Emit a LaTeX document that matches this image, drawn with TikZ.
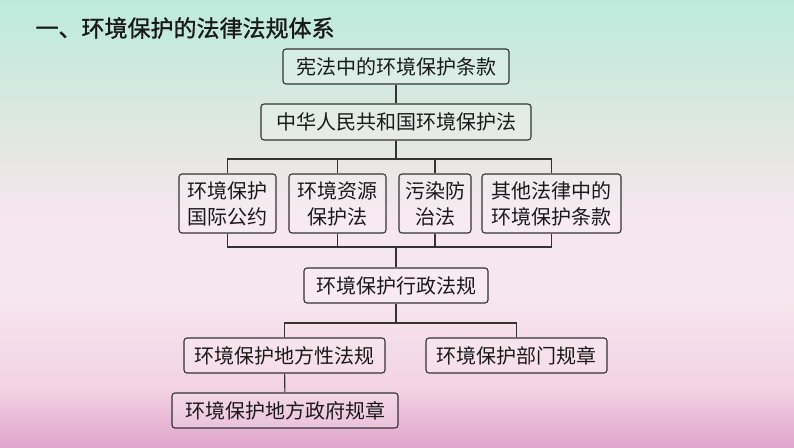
\documentclass[tikz,border=0pt]{standalone}
\usepackage{fontspec}
\usepackage{xcolor}
\setmainfont{Noto Sans CJK SC}
\newfontfamily\headfont{Noto Sans CJK SC}[FakeBold=1.2]
\usetikzlibrary{positioning}
\definecolor{ink}{HTML}{1A1A1A}
\definecolor{edge}{HTML}{333333}
\definecolor{mintA}{HTML}{BCEBDC}
\definecolor{grayA}{HTML}{E4E7E4}
\definecolor{paleA}{HTML}{F6E6EE}
\definecolor{pinkA}{HTML}{F3D3E5}
\definecolor{pinkB}{HTML}{E0A5CB}
% stops between 25bp (bottom) and 75bp (top)
\pgfdeclareverticalshading{bgshade}{100bp}{
  color(0bp)=(pinkB); color(25bp)=(pinkB); color(31.7bp)=(pinkA); color(41.8bp)=(paleA);
  color(50.7bp)=(paleA); color(58.6bp)=(grayA); color(75bp)=(mintA); color(100bp)=(mintA)}
\tikzset{
  title/.style={font=\headfont\fontsize{23}{25}\selectfont, text=ink},
  law/.style={rounded corners=3pt, draw=edge, line width=1.1pt, fill=white, fill opacity=0.2,
    text opacity=1, text=ink, font=\fontsize{20}{26}\selectfont, inner sep=0pt, align=center},
  link/.style={draw=edge, line width=1.1pt}
}

\begin{document}
\begin{tikzpicture}[x=1pt,y=1pt]
\useasboundingbox (0,0) rectangle (794,447);
\fill[shading=bgshade] (0,0) rectangle (794,447);

\node[title, anchor=west] (head) at (32,419) {一、环境保护的法律法规体系};

\node[law, minimum width=226pt, minimum height=35pt] (const) at (396,380.5) {宪法中的环境保护条款};
\node[law, minimum width=270pt, minimum height=36pt] (envlaw) at (396,325) {中华人民共和国环境保护法};

\node[law, minimum width=97pt, minimum height=59pt] (intl) at (227.5,243.5) {环境保护\\国际公约};
\node[law, minimum width=97pt, minimum height=59pt] (resrc) at (337.5,243.5) {环境资源\\保护法};
\node[law, minimum width=72pt, minimum height=59pt] (pollu) at (435,243.5) {污染防\\治法};
\node[law, minimum width=139pt, minimum height=59pt] (other) at (551.5,243.5) {其他法律中的\\环境保护条款};

\node[law, minimum width=184pt, minimum height=35pt] (admin) at (396,161.5) {环境保护行政法规};

\node[law, minimum width=201pt, minimum height=35pt] (local) at (284.5,91.5) {环境保护地方性法规};
\node[law, minimum width=181pt, minimum height=35pt] (dept) at (516.5,91.5) {环境保护部门规章};
\node[law, minimum width=226pt, minimum height=35pt] (gov) at (285,36.5) {环境保护地方政府规章};

\draw[link] (const) -- (envlaw);

\coordinate (busup) at (396,288);
\draw[link] (envlaw.south) -- (busup);
\draw[link] (intl.north) |- (busup) -| (other.north);
\draw[link] (resrc.north) -- (resrc.north |- busup);
\draw[link] (pollu.north) -- (pollu.north |- busup);

\coordinate (buslow) at (396,200);
\draw[link] (intl.south) |- (buslow) -| (other.south);
\draw[link] (resrc.south) -- (resrc.south |- buslow);
\draw[link] (pollu.south) -- (pollu.south |- buslow);
\draw[link] (buslow) -- (admin.north);

\coordinate (busadm) at (396,124);
\draw[link] (admin.south) -- (busadm);
\draw[link] (local.north) |- (busadm) -| (dept.north);

\draw[link] (local) -- (gov);

\end{tikzpicture}
\end{document}
